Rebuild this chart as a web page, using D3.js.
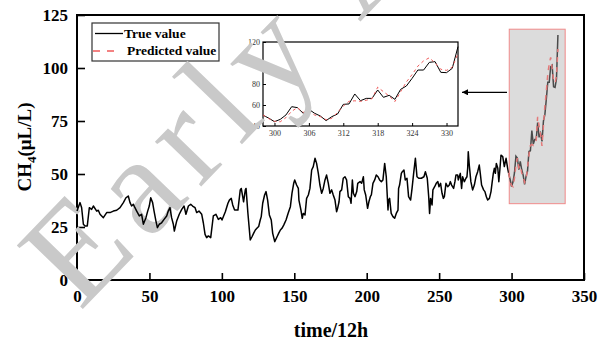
<!DOCTYPE html>
<html lang="en">
<head>
<meta charset="UTF-8">
<title>CH4 true vs predicted</title>
<script src="https://d3js.org/d3.v7.min.js"></script>
<style>
  body { margin: 0; background: #fff; }
  svg { display: block; font-family: "Liberation Serif", "Times New Roman", serif; }
</style>
</head>
<body>
<svg id="chart" width="600" height="342"></svg>
<script>
// measured series, 0..298 (time in 12h steps, CH4 in uL/L)
const mainSeries = [
  [0,32.5],[2.1,36.5],[3.2,34.1],[4.4,26.3],[5.5,25.5],[7.1,25.5],[8.5,34.1],[10.1,33.3],[11.3,34.9],[13.6,32.5],
  [14.7,32.9],[15.9,31.0],[18.2,29.4],[20.5,31.8],[22.8,31.8],[25.1,32.5],[27.4,32.9],[29.7,34.1],[32.0,36.5],[33.8,38.8],
  [35.4,39.6],[36.6,36.5],[37.7,34.9],[38.9,35.7],[40.0,34.1],[41.2,32.5],[43.0,30.2],[44.6,31.0],[45.8,26.3],[47.6,29.4],
  [48.8,32.5],[49.9,34.9],[50.9,38.8],[52.2,36.5],[53.2,32.5],[54.5,27.8],[55.5,24.7],[56.8,26.3],[58.4,27.0],[60.1,28.6],
  [61.9,30.2],[63.0,32.5],[64.2,34.1],[65.3,29.4],[66.5,26.3],[67.2,23.1],[68.8,27.8],[70.6,31.0],[72.3,33.3],[73.9,34.9],
  [75.2,31.0],[76.9,34.9],[78.5,35.7],[79.8,34.9],[81.5,34.1],[82.6,31.8],[84.2,32.5],[86.1,31.0],[87.2,27.0],[88.4,21.5],
  [89.5,20.0],[90.7,20.8],[92.3,20.0],[94.1,30.2],[95.9,31.0],[97.6,28.6],[99.2,29.4],
  [100.1,28.3],[102.4,32.2],[104.2,36.2],[105.2,37.7],[106.5,38.5],[107.5,35.4],[108.8,33.0],[111.1,33.0],[112.7,42.5],[113.4,43.2],
  [114.4,39.3],[115.0,36.9],[116.2,42.5],[116.7,43.2],[118.0,31.4],[119.6,18.9],[120.8,20.4],[121.9,22.0],[123.1,23.6],[124.2,24.4],
  [125.4,25.2],[126.5,28.3],[127.2,29.9],[128.2,36.2],[129.5,40.1],[130.5,41.7],[131.6,37.7],[132.8,30.7],[134.1,28.3],[135.1,22.0],
  [136.5,18.1],[138.1,20.4],[139.2,22.0],[140.4,23.6],[141.5,24.4],[142.7,25.9],[144.3,28.3],[145.7,31.4],[147.3,34.6],[148.4,40.9],
  [149.6,45.6],[150.3,47.2],
  [151.6,44.8],[152.8,43.2],[153.2,37.7],[154.6,33.0],[155.5,29.1],[156.2,31.4],[157.4,30.7],[158.5,38.5],[159.7,40.1],[160.8,43.2],
  [162.0,51.9],[163.1,53.5],[164.3,57.4],[165.4,55.0],[166.6,50.3],[167.7,44.8],[168.9,40.9],[170.0,43.2],[171.2,47.2],[172.3,49.5],
  [173.5,45.6],[174.6,40.9],[175.8,42.5],[176.9,40.1],[178.1,37.7],[179.2,32.2],[179.9,33.8],[180.9,36.9],[181.5,41.7],[182.7,42.5],
  [183.8,48.0],[185.0,48.7],[186.1,47.2],[187.3,39.3],[188.5,38.5],[189.2,36.2],[190.1,47.2],[190.8,40.9],[191.9,39.3],[193.1,41.7],
  [193.8,45.6],[195.4,46.4],[196.5,45.6],[197.7,48.7],[198.3,42.5],[199.3,40.1],[200.6,33.8],[201.5,36.9],[202.5,39.3],
  [203.2,40.1],[204.3,45.6],[205.5,47.2],[206.6,49.5],[207.8,48.7],[208.9,47.2],[210.1,46.4],[211.2,47.2],[212.4,55.0],[213.5,48.7],
  [214.7,33.0],[215.1,37.7],[215.8,38.5],[216.9,31.4],[218.1,29.9],[219.3,29.1],[220.4,31.4],[221.6,33.0],[222.0,43.2],[222.7,44.8],
  [223.9,50.3],[224.6,51.1],[225.7,51.9],[226.6,47.2],[227.8,48.0],[228.9,39.3],[230.3,37.7],[231.3,43.2],[232.4,50.3],[233.6,57.4],
  [234.7,48.7],[235.9,48.0],[237.7,48.0],[239.5,48.7],[240.5,51.1],[241.8,48.0],[242.8,39.3],[243.4,31.4],[244.1,38.5],[245.1,35.4],
  [245.7,42.5],[246.9,44.0],[248.0,45.6],[249.1,46.4],[249.9,44.0],[251.0,45.6],[252.0,40.9],[252.9,38.5],
  [253.6,39.3],[254.7,45.6],[255.9,44.0],[257.0,44.8],[257.7,46.4],[258.6,44.8],[260.0,43.2],[260.9,46.4],[261.6,49.5],[262.8,49.5],
  [263.2,47.2],[263.9,48.7],[264.6,50.3],[265.5,43.2],[266.2,48.7],[267.4,46.4],[268.5,48.0],[269.2,48.7],[269.7,52.7],[270.1,60.5],
  [270.8,54.2],[271.9,46.4],[273.1,42.5],[274.3,44.8],[275.4,48.7],[276.6,51.1],[277.7,54.2],[278.4,50.3],[279.3,44.8],[280.7,42.5],
  [281.6,41.7],[282.6,39.3],[283.5,37.7],[284.7,38.5],[285.8,41.7],[286.5,45.6],[287.4,50.3],[288.1,52.7],[288.8,50.3],[289.5,55.0],
  [290.5,52.7],[291.2,46.4],[291.9,51.9],[292.7,58.9],[293.9,58.2],[295.0,53.5],[296.2,57.4],[297.3,52.7],[298.0,50.3]
];

// test window, 298..332
const testTime = [298,299,300,301,302,303,304,305,306,307,308,309,310,311,312,313,314,315,316,317,
                  318,319,320,321,322,323,324,325,326,327,328,329,330,331,332];
const testTrue = [50.3,47.5,44.1,46.3,50.5,58.4,57.5,52.1,55.9,52.1,49.5,45.1,48.9,51.4,60.6,61.0,70.5,64.1,66.3,66.3,
                  74.3,67.3,69.2,65.4,74.9,78.1,85.4,93.3,93.3,100.6,101.3,91.1,90.8,94.9,115.6];
const testPred = [50.5,47.0,44.5,44.0,48.0,54.0,57.5,53.0,54.0,50.5,48.9,46.0,47.3,53.0,59.0,63.5,64.0,63.5,64.5,66.0,
                  77.0,72.7,68.6,63.2,72.7,82.0,89.0,97.0,102.0,105.0,100.0,94.0,93.0,96.0,109.0];

const xTicks = [0, 50, 100, 150, 200, 250, 300, 350];
const yTicks = [0, 25, 50, 75, 100, 125];
const insetXTicks = [300, 306, 312, 318, 324, 330];
const insetYTicks = [40, 60, 80, 100, 120];
const legendLabels = ['True value', 'Predicted value'];

const svg = d3.select('#chart');
const x = d3.scaleLinear().domain([0, 350]).range([77, 584]);
const y = d3.scaleLinear().domain([0, 125]).range([280, 15]);

// main axes
const xAxis = svg.append('g').attr('transform', 'translate(0,280)')
  .call(d3.axisBottom(x).tickValues(xTicks).tickSizeInner(-7).tickSizeOuter(0).tickPadding(10));
const yAxis = svg.append('g').attr('transform', 'translate(77,0)')
  .call(d3.axisLeft(y).tickValues(yTicks).tickSizeInner(-8).tickSizeOuter(0).tickPadding(9));
[xAxis, yAxis].forEach(g => {
  g.select('.domain').remove();
  g.selectAll('line').attr('stroke', '#000').attr('stroke-width', 1.6);
  g.selectAll('text').attr('font-family', '"Liberation Serif", serif')
    .attr('font-size', 17).attr('font-weight', 'bold').attr('fill', '#000');
});

svg.append('rect')
  .attr('x', x(0)).attr('y', y(125))
  .attr('width', x(350) - x(0)).attr('height', y(0) - y(125))
  .attr('fill', 'none').attr('stroke', '#000').attr('stroke-width', 2);

// axis titles
svg.append('text')
  .attr('x', 331).attr('y', 337)
  .attr('text-anchor', 'middle')
  .attr('font-size', 20).attr('font-weight', 'bold')
  .text('time/12h');

const yTitle = svg.append('text')
  .attr('transform', 'translate(31,147) rotate(-90)')
  .attr('text-anchor', 'middle')
  .attr('font-size', 19).attr('font-weight', 'bold');
yTitle.append('tspan').text('CH');
yTitle.append('tspan').attr('font-size', 13).attr('dy', 5).text('4');
yTitle.append('tspan').attr('dy', -5).text('(μL/L)');

// legend
const legend = svg.append('g');
legend.append('rect')
  .attr('x', 92).attr('y', 23).attr('width', 127).attr('height', 38)
  .attr('fill', '#fff').attr('stroke', '#333').attr('stroke-width', 1.2);
legend.append('line')
  .attr('x1', 95).attr('x2', 123).attr('y1', 33.5).attr('y2', 33.5)
  .attr('stroke', '#000').attr('stroke-width', 1.3);
legend.append('line')
  .attr('x1', 93).attr('x2', 116).attr('y1', 51).attr('y2', 51)
  .attr('stroke', '#f05a5a').attr('stroke-width', 1.3).attr('stroke-dasharray', '7,7');
legend.selectAll('text.lab').data(legendLabels).join('text')
  .attr('class', 'lab')
  .attr('x', (d, i) => i === 0 ? 124 : 127)
  .attr('y', (d, i) => i === 0 ? 37.5 : 55)
  .attr('font-size', 13.5).attr('font-weight', 'bold')
  .text(d => d);

// inset frame and axes
const ix = d3.scaleLinear().domain([298, 332]).range([263, 458]);
const iy = d3.scaleLinear().domain([40, 120]).range([126, 42]);
const inset = svg.append('g');
inset.append('rect')
  .attr('x', 263).attr('y', 42).attr('width', 195).attr('height', 84)
  .attr('fill', '#fff').attr('stroke', '#000').attr('stroke-width', 1.2);
const ixAxis = inset.append('g').attr('transform', 'translate(0,126)')
  .call(d3.axisBottom(ix).tickValues(insetXTicks).tickSizeInner(-3).tickSizeOuter(0).tickPadding(4));
const iyAxis = inset.append('g').attr('transform', 'translate(263,0)')
  .call(d3.axisLeft(iy).tickValues(insetYTicks).tickSizeInner(-3).tickSizeOuter(0).tickPadding(3));
[ixAxis, iyAxis].forEach(g => {
  g.select('.domain').remove();
  g.selectAll('line').attr('stroke', '#000');
  g.selectAll('text').attr('font-family', '"Liberation Serif", serif')
    .attr('font-size', 8).attr('fill', '#333');
});

// watermark
svg.append('text')
  .attr('transform', 'translate(80,312) rotate(-46)')
  .attr('font-size', 140)
  .attr('letter-spacing', 12)
  .attr('fill', '#c9c9c9')
  .text('Early Access');

// main lines
const line = d3.line().x(d => x(d[0])).y(d => y(d[1]));
svg.append('path')
  .datum(mainSeries)
  .attr('d', line)
  .attr('fill', 'none').attr('stroke', '#000').attr('stroke-width', 1.5)
  .attr('stroke-linejoin', 'round');

// highlighted window
svg.append('rect')
  .attr('x', x(298.4)).attr('y', y(118.3))
  .attr('width', x(337) - x(298.4)).attr('height', y(36) - y(118.3))
  .attr('fill', '#dcdcdc').attr('stroke', '#f08a8a').attr('stroke-width', 1);

const boxTrue = testTime.map((t, i) => [t, testTrue[i]]);
const boxPred = testTime.map((t, i) => [t, testPred[i]]);
svg.append('path').datum(boxTrue).attr('d', line)
  .attr('fill', 'none').attr('stroke', '#4a4a4a').attr('stroke-width', 1.5);
svg.append('path').datum(boxPred).attr('d', line)
  .attr('fill', 'none').attr('stroke', '#e47878').attr('stroke-width', 1.5)
  .attr('stroke-dasharray', '5,5');

// inset lines
const iline = d3.line().x(d => ix(d[0])).y(d => iy(d[1]));
inset.append('path').datum(boxTrue).attr('d', iline)
  .attr('fill', 'none').attr('stroke', '#000').attr('stroke-width', 1);
inset.append('path').datum(boxPred).attr('d', iline)
  .attr('fill', 'none').attr('stroke', '#f05a5a').attr('stroke-width', 1)
  .attr('stroke-dasharray', '3,3');

// arrow from window to inset
svg.append('defs').append('marker')
  .attr('id', 'head').attr('viewBox', '0 0 10 10')
  .attr('refX', 10).attr('refY', 5)
  .attr('markerWidth', 10).attr('markerHeight', 6)
  .attr('markerUnits', 'userSpaceOnUse')
  .attr('orient', 'auto')
  .append('path').attr('d', 'M0,0L10,5L0,10Z').attr('fill', '#000');
svg.append('line')
  .attr('x1', 507).attr('y1', 92.3).attr('x2', 462).attr('y2', 92.3)
  .attr('stroke', '#000').attr('stroke-width', 1.2)
  .attr('marker-end', 'url(#head)');
</script>
</body>
</html>
